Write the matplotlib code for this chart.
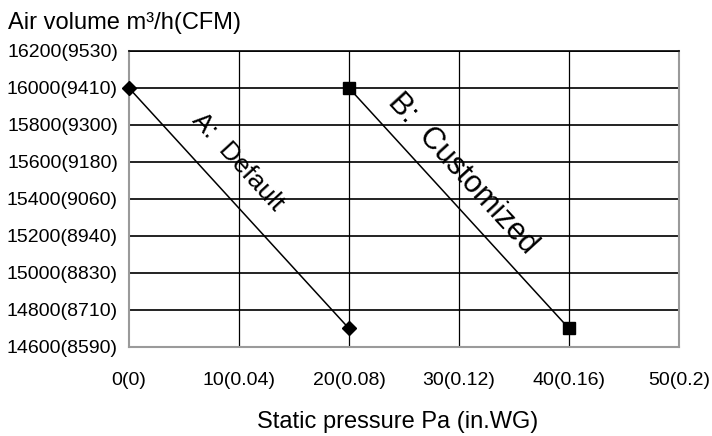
import numpy as np
import matplotlib.pyplot as plt

plt.rcParams['font.family'] = ['Liberation Sans', 'DejaVu Sans']

# data
x_a = [0, 20]
y_a = [16000, 14700]
x_b = [20, 40]
y_b = [16000, 14700]

x_ticks = [0, 10, 20, 30, 40, 50]
x_ticklabels = ['0(0)', '10(0.04)', '20(0.08)', '30(0.12)', '40(0.16)', '50(0.2)']
y_ticks = [14600, 14800, 15000, 15200, 15400, 15600, 15800, 16000, 16200]
y_ticklabels = ['14600(8590)', '14800(8710)', '15000(8830)', '15200(8940)', '15400(9060)',
                '15600(9180)', '15800(9300)', '16000(9410)', '16200(9530)']

fig = plt.figure(figsize=(7.12, 4.36), dpi=100)
ax = fig.add_axes([129 / 712, 1 - 347 / 436, 550 / 712, 296 / 436])

ax.set_xlim(0, 50)
ax.set_ylim(14600, 16200)

# grid
for yv in y_ticks[1:]:
    ax.axhline(yv, color='#222222', lw=1.4, zorder=1)
for xv in x_ticks[1:-1]:
    ax.axvline(xv, color='black', lw=0.9, zorder=1)

ax.plot(x_a, y_a, color='black', lw=1.1, marker='D', ms=7.5, zorder=3, clip_on=False)
ax.plot(x_b, y_b, color='black', lw=1.1, marker='s', ms=8, zorder=3, clip_on=False)

# labels along the lines
p0 = ax.transData.transform((0, 16000))
p1 = ax.transData.transform((20, 14700))
ang = np.degrees(np.arctan2(p1[1] - p0[1], p1[0] - p0[0]))
ax.text(9.9, 15600, 'A:  Default', rotation=ang, ha='center', va='center',
        fontsize=19, rotation_mode='anchor')
ax.text(30.3, 15535, 'B:  Customized', rotation=ang, ha='center', va='center',
        fontsize=22, rotation_mode='anchor')

ax.set_xticks(x_ticks)
ax.set_xticklabels(x_ticklabels, fontsize=14)
ax.set_yticks(y_ticks)
ax.set_yticklabels(y_ticklabels, fontsize=14)
ax.tick_params(axis='both', length=0)
ax.tick_params(axis='x', pad=18)
ax.tick_params(axis='y', pad=8)

for s in ['left', 'bottom', 'right']:
    ax.spines[s].set_color('#9a9a9a')
    ax.spines[s].set_linewidth(1.5)
ax.spines['top'].set_color('black')
ax.spines['top'].set_linewidth(1.2)

fig.text(8 / 712, 1 - 23 / 436, 'Air volume m\u00b3/h(CFM)', fontsize=17, va='center', ha='left')
fig.text(398 / 712, 1 - 422 / 436, 'Static pressure Pa (in.WG)', fontsize=17, va='center', ha='center')

fig.savefig('out.png', dpi=100)
